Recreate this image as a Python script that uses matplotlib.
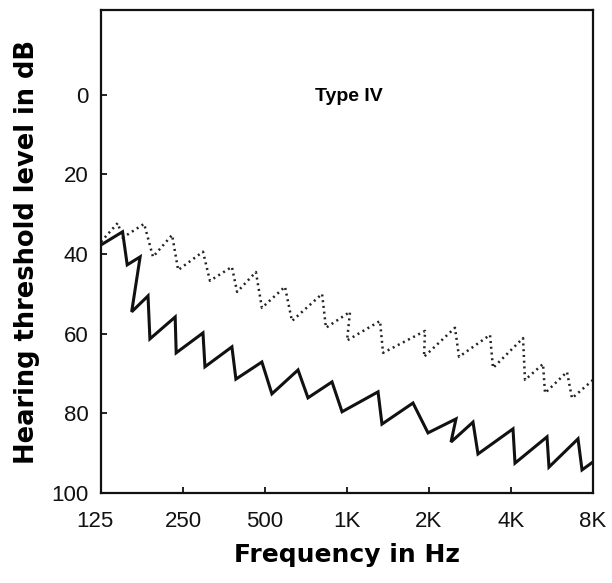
import matplotlib
matplotlib.use("Agg")
import matplotlib.pyplot as plt
import matplotlib.transforms as mtransforms

# Pulsed tone trace (solid): frequency (Hz) and threshold (dB HL)
solid_freq = [125, 150, 156, 174, 162, 186, 189, 234, 236, 296, 301, 378, 391,
              487, 530, 661, 719, 881, 959, 1300, 1344, 1747, 1983, 2512, 2409,
              2901, 3026, 4068, 4138, 5423, 5514, 7048, 7291, 8000]
solid_db = [37.7, 34.4, 42.7, 40.7, 54.5, 50.5, 61.3, 55.8, 64.8, 59.8, 68.3,
            63.3, 71.4, 67.1, 75.1, 69.1, 76.1, 72.1, 79.6, 74.6, 82.7, 77.4,
            84.9, 81.4, 87.2, 82.2, 90.2, 83.9, 92.5, 85.9, 93.5, 86.4, 94.2, 92.2]

# Continuous tone trace (dotted)
dotted_freq = [125, 144, 150, 180, 194, 228, 240, 296, 314, 378, 395, 463, 487,
               592, 628, 810, 837, 1026, 1000, 1322, 1356, 1934, 1917, 2491,
               2578, 3350, 3435, 4428, 4503, 5243, 5333, 6421, 6699, 8000]
dotted_db = [36.9, 32.2, 35.9, 32.4, 40.7, 35.2, 44.0, 39.4, 46.7, 43.2, 49.5,
             44.5, 53.5, 48.2, 56.8, 50.0, 58.5, 54.5, 61.7, 56.8, 64.8, 59.3,
             65.8, 58.5, 65.8, 60.3, 68.6, 61.1, 71.6, 67.6, 74.9, 69.6, 76.2, 71.6]

x_ticks = [125, 250, 500, 1000, 2000, 4000, 8000]
x_labels = ["125", "250", "500", "1K", "2K", "4K", "8K"]
y_ticks = [0, 20, 40, 60, 80, 100]

plt.rcParams['font.family'] = ['Liberation Sans', 'DejaVu Sans']

fig = plt.figure(figsize=(6.12, 5.83), dpi=100)
ax = fig.add_axes([101/612, 1 - 493/583, (593-101)/612, (493-10)/583])

ax.plot(dotted_freq, dotted_db, color="#222222", lw=1.8,
        linestyle=(0, (0.8, 1.5)))
ax.plot(solid_freq, solid_db, color="#111111", lw=2.2, solid_joinstyle="miter")

ax.set_xscale("log")
ax.set_xlim(125, 8000)
ax.set_ylim(100, -21.3)
ax.set_xticks(x_ticks)
ax.set_xticklabels(x_labels)
ax.minorticks_off()
ax.set_yticks(y_ticks)

ax.tick_params(axis="both", direction="in", length=4, width=1.3,
               labelsize=16, colors="#111111")
ax.tick_params(axis="x", pad=13)
ax.tick_params(axis="y", pad=9)

# nudge first x label slightly left as in the reference
lab0 = ax.get_xticklabels()[0]
lab0.set_transform(lab0.get_transform() +
                   mtransforms.ScaledTranslation(-6/100, 0, fig.dpi_scale_trans))

for s in ax.spines.values():
    s.set_linewidth(1.6)
    s.set_color("#111111")

ax.set_xlabel("Frequency in Hz", fontsize=18, fontweight="bold", labelpad=8,
              family=["DejaVu Sans"])
ax.set_ylabel("Hearing threshold level in dB", fontsize=18.5, fontweight="bold",
              labelpad=8, family=["DejaVu Sans"])

ax.text(0.504, 0.82, "Type IV", transform=ax.transAxes, ha="center", va="center",
        fontsize=14, fontweight="bold")

fig.savefig("out.png", dpi=100)
